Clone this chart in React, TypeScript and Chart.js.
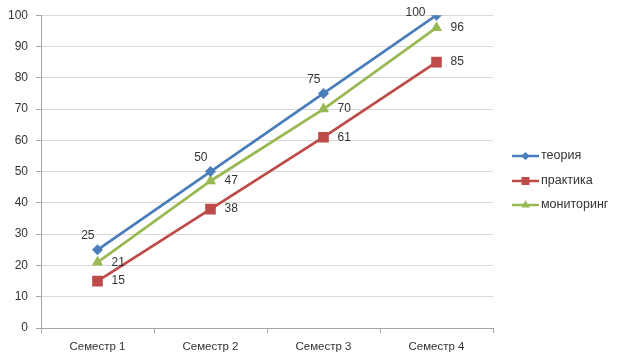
import React, { useEffect, useRef } from "react";
import { Chart, registerables } from "chart.js";

Chart.register(...registerables);

const categories = ["Семестр 1", "Семестр 2", "Семестр 3", "Семестр 4"];
const seriesNames = ["теория", "практика", "мониторинг"];
const theory = [25, 50, 75, 100];
const practice = [15, 38, 61, 85];
const monitoring = [21, 47, 70, 96];
const yTicks = [0, 10, 20, 30, 40, 50, 60, 70, 80, 90, 100];

const colors = ["#4A7EBB", "#BE4B48", "#98B954"];
const pointStyles = ["rectRot", "rect", "triangle"];
const pointRadii = [5.5, 7.5, 6.5];
const FONT = "'Liberation Sans', Arial, sans-serif";
const TEXT = "#333333";

const labelPlugin = {
  id: "valueLabels",
  afterDatasetsDraw(chart: any) {
    const ctx = chart.ctx;
    ctx.save();
    ctx.font = `12px ${FONT}`;
    ctx.fillStyle = TEXT;
    ctx.textBaseline = "middle";
    chart.data.datasets.forEach((ds: any, i: number) => {
      const meta = chart.getDatasetMeta(i);
      meta.data.forEach((pt: any, j: number) => {
        const v = String(ds.data[j]);
        if (i === 0) {
          ctx.textAlign = "right";
          let y = pt.y - 14;
          let x = pt.x - 3;
          if (y < chart.chartArea.top) {
            y = pt.y - 3;
            x = pt.x - 11;
          }
          ctx.fillText(v, x, y);
        } else {
          ctx.textAlign = "left";
          ctx.fillText(v, pt.x + 14, pt.y);
        }
      });
    });
    ctx.restore();
  },
};

function drawMarker(ctx: any, style: string, x: number, y: number, r: number, color: string) {
  ctx.fillStyle = color;
  ctx.beginPath();
  if (style === "rectRot") {
    ctx.moveTo(x, y - r);
    ctx.lineTo(x + r, y);
    ctx.lineTo(x, y + r);
    ctx.lineTo(x - r, y);
  } else if (style === "rect") {
    const s = r * Math.SQRT1_2;
    ctx.rect(x - s, y - s, 2 * s, 2 * s);
  } else {
    ctx.moveTo(x, y - r);
    ctx.lineTo(x + r * 0.87, y + r * 0.5);
    ctx.lineTo(x - r * 0.87, y + r * 0.5);
  }
  ctx.closePath();
  ctx.fill();
}

const legendPlugin = {
  id: "customLegend",
  afterDraw(chart: any) {
    const ctx = chart.ctx;
    const x0 = 512;
    const x1 = 539;
    const ys = [156, 181, 205];
    ctx.save();
    chart.data.datasets.forEach((ds: any, i: number) => {
      const y = ys[i];
      ctx.strokeStyle = ds.borderColor;
      ctx.lineWidth = 2.5;
      ctx.beginPath();
      ctx.moveTo(x0, y);
      ctx.lineTo(x1, y);
      ctx.stroke();
      drawMarker(ctx, ds.pointStyle, (x0 + x1) / 2, y, ds.pointRadius * 0.75, ds.borderColor);
      ctx.fillStyle = TEXT;
      ctx.font = `12.5px ${FONT}`;
      ctx.textAlign = "left";
      ctx.textBaseline = "middle";
      ctx.fillText(ds.label, x1 + 2, y);
    });
    ctx.restore();
  },
};

export default function App() {
  const ref = useRef<HTMLCanvasElement>(null);
  useEffect(() => {
    if (!ref.current) return;
    const series = [theory, practice, monitoring];
    const chart = new Chart(ref.current, {
      type: "line",
      data: {
        labels: categories,
        datasets: series.map((d, i) => ({
          label: seriesNames[i],
          data: d,
          borderColor: colors[i],
          backgroundColor: colors[i],
          borderWidth: 2.75,
          pointStyle: pointStyles[i] as any,
          pointRadius: pointRadii[i],
          pointBorderWidth: 0,
          tension: 0,
        })),
      },
      options: {
        animation: false,
        responsive: false,
        layout: { padding: { left: 0, right: 131, top: 15, bottom: 0 } },
        plugins: { legend: { display: false }, tooltip: { enabled: false } },
        scales: {
          x: {
            offset: true,
            grid: {
              offset: true,
              drawOnChartArea: false,
              drawTicks: true,
              tickLength: 5,
              color: "#A6A6A6",
            },
            border: { color: "#A6A6A6" },
            ticks: { color: TEXT, font: { family: FONT, size: 11.5 }, padding: 7 },
            afterFit: (s: any) => {
              s.height = 35;
            },
          },
          y: {
            min: 0,
            max: 100,
            afterBuildTicks: (s: any) => {
              s.ticks = yTicks.map((v) => ({ value: v }));
            },
            grid: { color: "#D9D9D9", tickLength: 5, tickColor: "#A6A6A6" },
            border: { color: "#A6A6A6" },
            ticks: { color: TEXT, font: { family: FONT, size: 12 }, padding: 8 },
            afterFit: (s: any) => {
              s.width = 41;
            },
          },
        },
      },
      plugins: [labelPlugin, legendPlugin],
    });
    return () => chart.destroy();
  }, []);
  return (
    <div style={{ position: "fixed", left: 0, top: 0, width: 624, height: 363, background: "#fff" }}>
      <canvas ref={ref} width={624} height={363} style={{ width: 624, height: 363 }} />
    </div>
  );
}
